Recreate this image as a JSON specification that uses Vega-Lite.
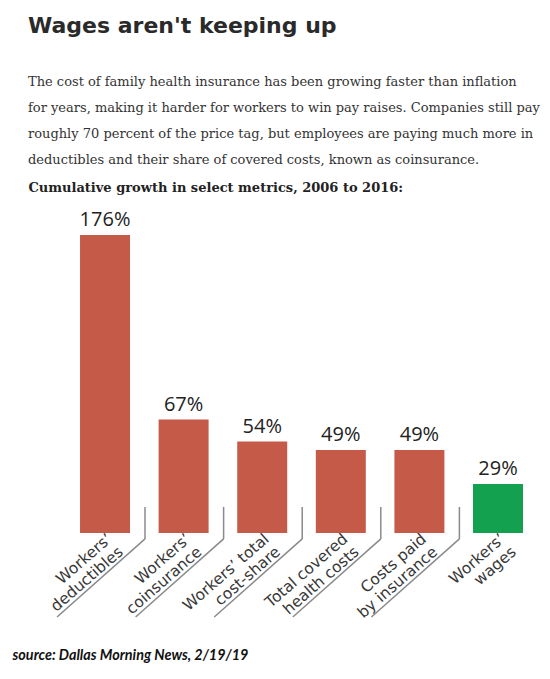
{
  "$schema": "https://vega.github.io/schema/vega-lite/v6.json",
  "width": 495,
  "height": 298,
  "autosize": "none",
  "padding": {"left": 28, "top": 235, "right": 27, "bottom": 146},
  "background": "white",
  "title": {
    "text": "Wages aren't keeping up",
    "subtitle": [
      "The cost of family health insurance has been growing faster than inflation",
      "for years, making it harder for workers to win pay raises. Companies still pay",
      "roughly 70 percent of the price tag, but employees are paying much more in",
      "deductibles and their share of covered costs, known as coinsurance."
    ],
    "anchor": "start",
    "frame": "group",
    "font": "DejaVu Sans",
    "fontSize": 22,
    "fontWeight": "bold",
    "color": "#2a2a2a",
    "subtitleFont": "DejaVu Serif",
    "subtitleFontSize": 13,
    "subtitleColor": "#333333",
    "subtitleLineHeight": 26,
    "subtitlePadding": 38,
    "offset": 13
  },
  "config": {"view": {"stroke": null}},
  "data": {
    "values": [
      {"metric": "Workers’|deductibles", "growth": 1.76},
      {"metric": "Workers’|coinsurance", "growth": 0.67},
      {"metric": "Workers’ total|cost-share", "growth": 0.54},
      {"metric": "Total covered|health costs", "growth": 0.49},
      {"metric": "Costs paid|by insurance", "growth": 0.49},
      {"metric": "Workers’|wages", "growth": 0.29}
    ]
  },
  "layer": [
    {
      "mark": {"type": "bar"},
      "encoding": {
        "x": {
          "field": "metric",
          "type": "nominal",
          "sort": null,
          "scale": {"paddingInner": 0.364, "paddingOuter": 0.331, "align": 1},
          "axis": {
            "orient": "bottom",
            "labelExpr": "split(datum.label, '|')",
            "labelAngle": -41,
            "labelAlign": "right",
            "labelBaseline": "top",
            "labelFont": "DejaVu Sans",
            "labelFontSize": 15.5,
            "labelColor": "#383838",
            "labelLineHeight": 17,
            "labelPadding": -2,
            "labelOffset": 0,
            "labelLimit": 300,
            "domain": false,
            "ticks": false,
            "title": "source: Dallas Morning News, 2/19/19",
            "titleFont": "Lato",
            "titleFontStyle": "italic",
            "titleFontWeight": "bold",
            "titleFontSize": 14.4,
            "titleColor": "#111111",
            "titleAnchor": "start",
            "titleAlign": "left",
            "titleBaseline": "alphabetic",
            "titleX": -16,
            "titleY": 126
          }
        },
        "y": {
          "field": "growth",
          "type": "quantitative",
          "scale": {"domain": [0, 1.76], "nice": false},
          "axis": null
        },
        "color": {
          "condition": {"test": "datum.growth < 0.3", "value": "#13A04F"},
          "value": "#C55A48"
        }
      }
    },
    {
      "mark": {
        "type": "text",
        "baseline": "alphabetic",
        "dy": -9,
        "font": "Open Sans",
        "fontSize": 20,
        "color": "#222222"
      },
      "encoding": {
        "x": {
          "field": "metric",
          "type": "nominal",
          "sort": null,
          "axis": {
            "orient": "top",
            "labels": false,
            "ticks": false,
            "domain": false,
            "title": "Cumulative growth in select metrics, 2006 to 2016:",
            "titleFont": "DejaVu Serif",
            "titleFontWeight": "bold",
            "titleFontSize": 13,
            "titleColor": "#222222",
            "titleAnchor": "start",
            "titleAlign": "left",
            "titleBaseline": "alphabetic",
            "titleX": 0,
            "titleY": -44
          }
        },
        "y": {"field": "growth", "type": "quantitative", "axis": null},
        "text": {"field": "growth", "type": "quantitative", "format": ".0%"}
      }
    },
    {
      "transform": [{"filter": "datum.growth > 0.3"}],
      "mark": {"type": "rule", "color": "#8a8a8a", "strokeWidth": 1.5},
      "encoding": {
        "x": {"field": "metric", "type": "nominal", "sort": null, "bandPosition": 1.3, "axis": null},
        "y": {"datum": 0.154, "type": "quantitative", "axis": null},
        "y2": {"datum": -0.035}
      }
    },
    {
      "transform": [{"filter": "datum.growth > 0.3"}],
      "mark": {"type": "rule", "color": "#8a8a8a", "strokeWidth": 1.5},
      "encoding": {
        "x": {"field": "metric", "type": "nominal", "sort": null, "bandPosition": 1.3, "axis": null},
        "x2": {"field": "metric", "bandPosition": -0.46},
        "y": {"datum": -0.035, "type": "quantitative", "axis": null},
        "y2": {"datum": -0.496}
      }
    }
  ],
  "resolve": {"axis": {"x": "independent"}}
}
